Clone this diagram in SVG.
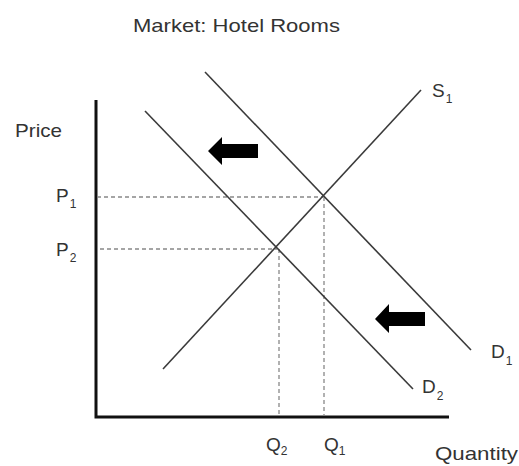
<svg xmlns="http://www.w3.org/2000/svg" width="519" height="466" viewBox="0 0 519 466">
<style>
text{font-family:"Liberation Sans",Arial,sans-serif;fill:#333;font-size:19px}
.sub{font-size:12px}
.curve{stroke:#3a3a3a;stroke-width:1.6;fill:none}
.axis{stroke:#111;stroke-width:3;fill:none}
.dash{stroke:#888;stroke-width:1.3;stroke-dasharray:4 3;fill:none}
.shift{fill:#000}
</style>
<rect width="519" height="466" fill="#fff"/>
<text x="133" y="32" textLength="207" lengthAdjust="spacingAndGlyphs">Market: Hotel Rooms</text>
<g id="axes">
<path class="axis" d="M96 100 V417 H449"/>
<text x="15" y="137" textLength="47" lengthAdjust="spacingAndGlyphs">Price</text>
<text x="435" y="460" textLength="83" lengthAdjust="spacingAndGlyphs">Quantity</text>
</g>
<g id="connectors">
<path class="dash" d="M97 197 H323 M100 249 H277 M279 249 V415 M324 197 V415"/>
</g>
<g id="S1">
<line class="curve" x1="163" y1="369" x2="421" y2="90"/>
<text x="432" y="97">S<tspan class="sub" dx="1" dy="6">1</tspan></text>
</g>
<g id="D1">
<line class="curve" x1="205" y1="72" x2="471" y2="350"/>
<text x="491" y="358">D<tspan class="sub" dx="1" dy="7">1</tspan></text>
</g>
<g id="D2">
<line class="curve" x1="145" y1="111" x2="413" y2="389"/>
<text x="422" y="393">D<tspan class="sub" dx="1" dy="7">2</tspan></text>
</g>
<g id="P1"><text x="56" y="202">P<tspan class="sub" dx="1" dy="6">1</tspan></text></g>
<g id="P2"><text x="56" y="256">P<tspan class="sub" dx="1" dy="6">2</tspan></text></g>
<g id="Q2"><text x="266" y="451">Q<tspan class="sub" dx="0" dy="4">2</tspan></text></g>
<g id="Q1"><text x="324" y="451">Q<tspan class="sub" dx="0" dy="4">1</tspan></text></g>
<g id="arrow-upper"><path class="shift" d="M208 151 L222 137 V144 H258 V158 H222 V165 Z"/></g>
<g id="arrow-lower"><path class="shift" d="M375 319 L389 304 V312 H425 V326 H389 V333 Z"/></g>
</svg>
